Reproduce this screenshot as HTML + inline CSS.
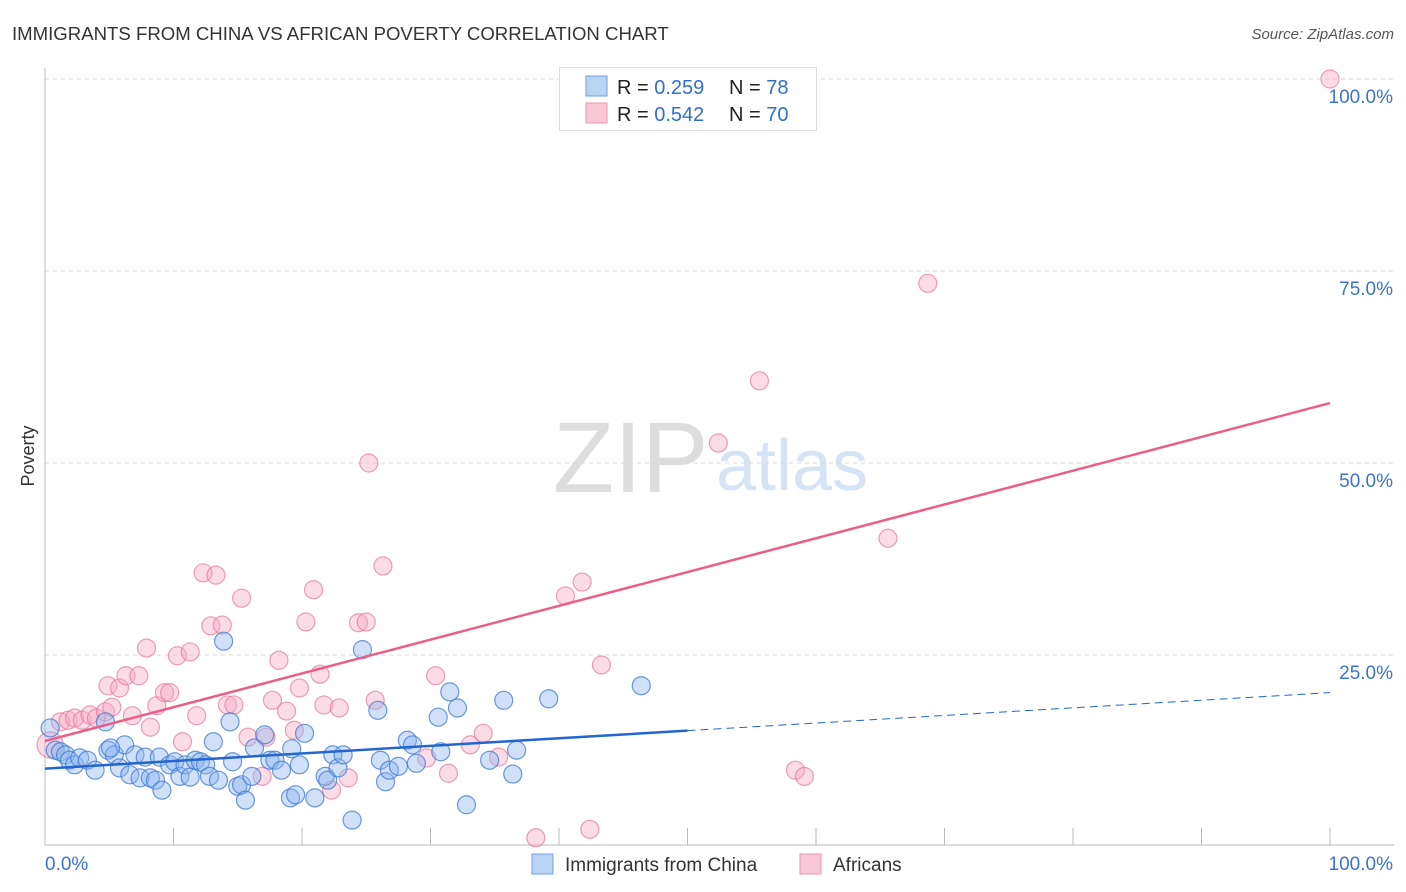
<!DOCTYPE html>
<html><head><meta charset="utf-8">
<style>
body{margin:0;background:#fff;font-family:"Liberation Sans",sans-serif;}
#wrap{position:relative;width:1406px;height:892px;overflow:hidden;}
svg text{font-family:"Liberation Sans",sans-serif;}
</style></head>
<body>
<div id="wrap">
<svg id="chart" width="1406" height="892">
<text x="12" y="40" font-size="18.6" fill="#333">IMMIGRANTS FROM CHINA VS AFRICAN POVERTY CORRELATION CHART</text>
<text x="1394" y="39" font-size="15" fill="#555" font-style="italic" text-anchor="end">Source: ZipAtlas.com</text>
<text x="553" y="492" font-size="100" fill="#ddd" font-family="Liberation Serif, serif">ZIP</text>
<text x="716" y="490" font-size="72" fill="#d6e3f5">atlas</text>
<text transform="translate(34,456) rotate(-90)" font-size="18" fill="#333" text-anchor="middle">Poverty</text>
<g id="grid"></g>
<g id="axes"></g>
<g id="pts"></g>
<g id="lines"></g>
<g>
<rect x="559.5" y="67.5" width="257" height="63" fill="#fff" stroke="#ddd"/>
<rect x="586" y="76" width="21" height="20" fill="#b9d3f5" stroke="#6f9fe0"/>
<rect x="586" y="103" width="21" height="20" fill="#f9c8d7" stroke="#ea95b0"/>
<text x="617" y="94" font-size="20" fill="#222">R = <tspan fill="#2f6fd0">0.259</tspan></text>
<text x="729" y="94" font-size="20" fill="#222">N = <tspan fill="#2f6fd0">78</tspan></text>
<text x="617" y="121" font-size="20" fill="#222">R = <tspan fill="#2f6fd0">0.542</tspan></text>
<text x="729" y="121" font-size="20" fill="#222">N = <tspan fill="#2f6fd0">70</tspan></text>
</g>
<g>
<rect x="532" y="854" width="21" height="20" fill="#b9d3f5" stroke="#6f9fe0"/>
<text x="565" y="871" font-size="19" fill="#333">Immigrants from China</text>
<rect x="800" y="854" width="21" height="20" fill="#f9c8d7" stroke="#ea95b0"/>
<text x="833" y="871" font-size="19" fill="#333">Africans</text>
</g>
</svg>
</div>
<script>
const yTicks=[25,50,75,100];
const yTickLabels=["25.0%","50.0%","75.0%","100.0%"];
const xTicks=[0,10,20,30,40,50,60,70,80,90,100];
const xEndLabels=["0.0%","100.0%"];
const chinaX=[0.4,0.8,1.2,1.6,1.9,2.3,2.7,3.3,3.9,4.7,4.9,5.4,5.8,6.2,6.6,7.0,7.4,7.8,8.2,8.6,8.9,9.1,9.7,10.1,10.5,10.9,11.3,11.7,12.1,12.5,12.8,13.1,13.5,13.9,14.4,14.6,15.0,15.3,15.6,16.1,16.3,17.1,17.5,17.9,18.4,19.1,19.2,19.5,19.8,20.2,21.0,21.8,22.0,22.4,22.8,23.2,23.9,24.7,25.9,26.1,26.5,26.8,27.5,28.2,28.6,28.9,30.6,30.8,31.5,32.1,32.8,34.6,35.7,36.4,36.7,39.2,46.4,5.1];
const chinaY=[15.5,12.6,12.4,12.0,11.3,10.7,11.6,11.3,10.0,16.3,12.6,12.0,10.3,13.3,9.4,12.0,9.0,11.7,9.0,8.7,11.7,7.4,10.7,11.1,9.2,10.7,9.1,11.3,11.1,10.7,9.2,13.7,8.7,26.8,16.3,11.1,7.9,8.1,6.1,9.2,12.9,14.6,11.3,11.3,10.0,6.4,12.8,6.8,10.7,14.8,6.4,9.2,8.7,12.0,10.3,12.0,3.5,25.7,17.8,11.3,8.5,10.0,10.5,13.9,13.3,10.9,16.9,12.4,20.2,18.1,5.5,11.3,19.1,9.5,12.6,19.3,21.0,12.9];
const afrX=[0.4,1.2,1.8,2.3,2.9,3.5,4.0,4.7,5.2,4.9,5.8,6.3,6.8,7.3,7.9,8.2,8.7,9.3,9.7,10.3,10.7,11.3,11.8,12.3,12.9,13.3,13.8,14.2,14.7,15.3,15.8,16.9,17.2,17.7,18.2,18.8,19.4,19.8,20.3,20.9,21.4,21.7,22.3,22.9,23.6,24.4,25.0,25.2,25.7,26.3,29.7,30.4,31.4,33.1,34.1,35.3,38.2,42.4,40.5,41.8,43.3,52.4,55.6,65.6,68.7,100,58.4,59.1];
const afrY=[13.3,16.3,16.5,16.8,16.5,17.2,16.8,17.6,18.2,21.0,20.7,22.3,17.1,22.3,25.9,15.6,18.4,20.1,20.1,24.9,13.7,25.4,17.1,35.7,28.8,35.4,28.9,18.5,18.5,32.4,14.3,9.2,14.3,19.1,24.3,17.7,15.2,20.7,29.3,33.5,22.5,18.5,7.4,18.1,9.0,29.2,29.3,50.0,19.1,36.6,11.6,22.3,9.6,13.3,14.8,11.7,1.2,2.3,32.7,34.5,23.7,52.6,60.7,40.2,73.4,100,10.0,9.2];
const chinaTrend=[10.2,20.1];
const chinaSolidEnd=50;
const afrTrend=[13.8,57.8];

const X0=45,X1=1330,Y0=847,Y1=79;
const sx=v=>X0+(X1-X0)*v/100;
const sy=v=>Y0-(Y0-Y1)*v/100;
const NS="http://www.w3.org/2000/svg";
function mk(tag,attrs,parent){const e=document.createElementNS(NS,tag);for(const k in attrs)e.setAttribute(k,attrs[k]);parent.appendChild(e);return e;}
const grid=document.getElementById('grid'),axes=document.getElementById('axes'),pts=document.getElementById('pts'),lines=document.getElementById('lines');
yTicks.forEach((t,i)=>{
 const l=mk('line',{x1:X0,x2:1394,y1:sy(t),y2:sy(t),stroke:'#d8d8d8','stroke-dasharray':'4,4'},grid);
 
 
 const tx=mk('text',{x:1393,y:sy(t)+24,'font-size':19,fill:'#3a73d0','text-anchor':'end'},axes);
 tx.textContent=yTickLabels[i];
 
 
});
const ax=mk('line',{x1:X0,x2:X0,y1:68,y2:845,stroke:'#bbb'},axes);


const bx=mk('line',{x1:X0,x2:1394,y1:845,y2:845,stroke:'#bbb'},axes);


xTicks.forEach(t=>{
 const l=mk('line',{x1:sx(t),x2:sx(t),y1:828,y2:845,stroke:'#bbb'},axes);
 
 
});
const xl0=mk('text',{x:45,y:870,'font-size':19,fill:'#3a73d0'},axes);xl0.textContent=xEndLabels[0];


const xl1=mk('text',{x:1393,y:870,'font-size':19,fill:'#3a73d0','text-anchor':'end'},axes);xl1.textContent=xEndLabels[1];



function drawSeries(xs,ys,fill,stroke,name,bigFirst){
 xs.forEach((x,i)=>{
  const c=mk('circle',{cx:sx(x),cy:sy(ys[i]),r:(bigFirst&&i===0?13:9),fill:fill,stroke:stroke,'stroke-width':1.2},pts);
  
  
 });
}
drawSeries(afrX,afrY,'rgba(246,170,196,0.42)','rgba(230,120,155,0.7)','africans',true);
drawSeries(chinaX,chinaY,'rgba(140,182,238,0.42)','rgba(60,120,210,0.75)','china',false);

const ty=(tr,x)=>tr[0]+(tr[1]-tr[0])*x/100;
const cs=mk('line',{x1:sx(0),y1:sy(ty(chinaTrend,0)),x2:sx(chinaSolidEnd),y2:sy(ty(chinaTrend,chinaSolidEnd)),stroke:'#2366d1','stroke-width':2.5},lines);


const cd=mk('line',{x1:sx(chinaSolidEnd),y1:sy(ty(chinaTrend,chinaSolidEnd)),x2:sx(100),y2:sy(ty(chinaTrend,100)),stroke:'#2366d1','stroke-width':1,'stroke-dasharray':'8,5'},lines);


const al=mk('line',{x1:sx(0),y1:sy(ty(afrTrend,0)),x2:sx(100),y2:sy(ty(afrTrend,100)),stroke:'#e8608a','stroke-width':2.5},lines);


</script>
</body></html>
